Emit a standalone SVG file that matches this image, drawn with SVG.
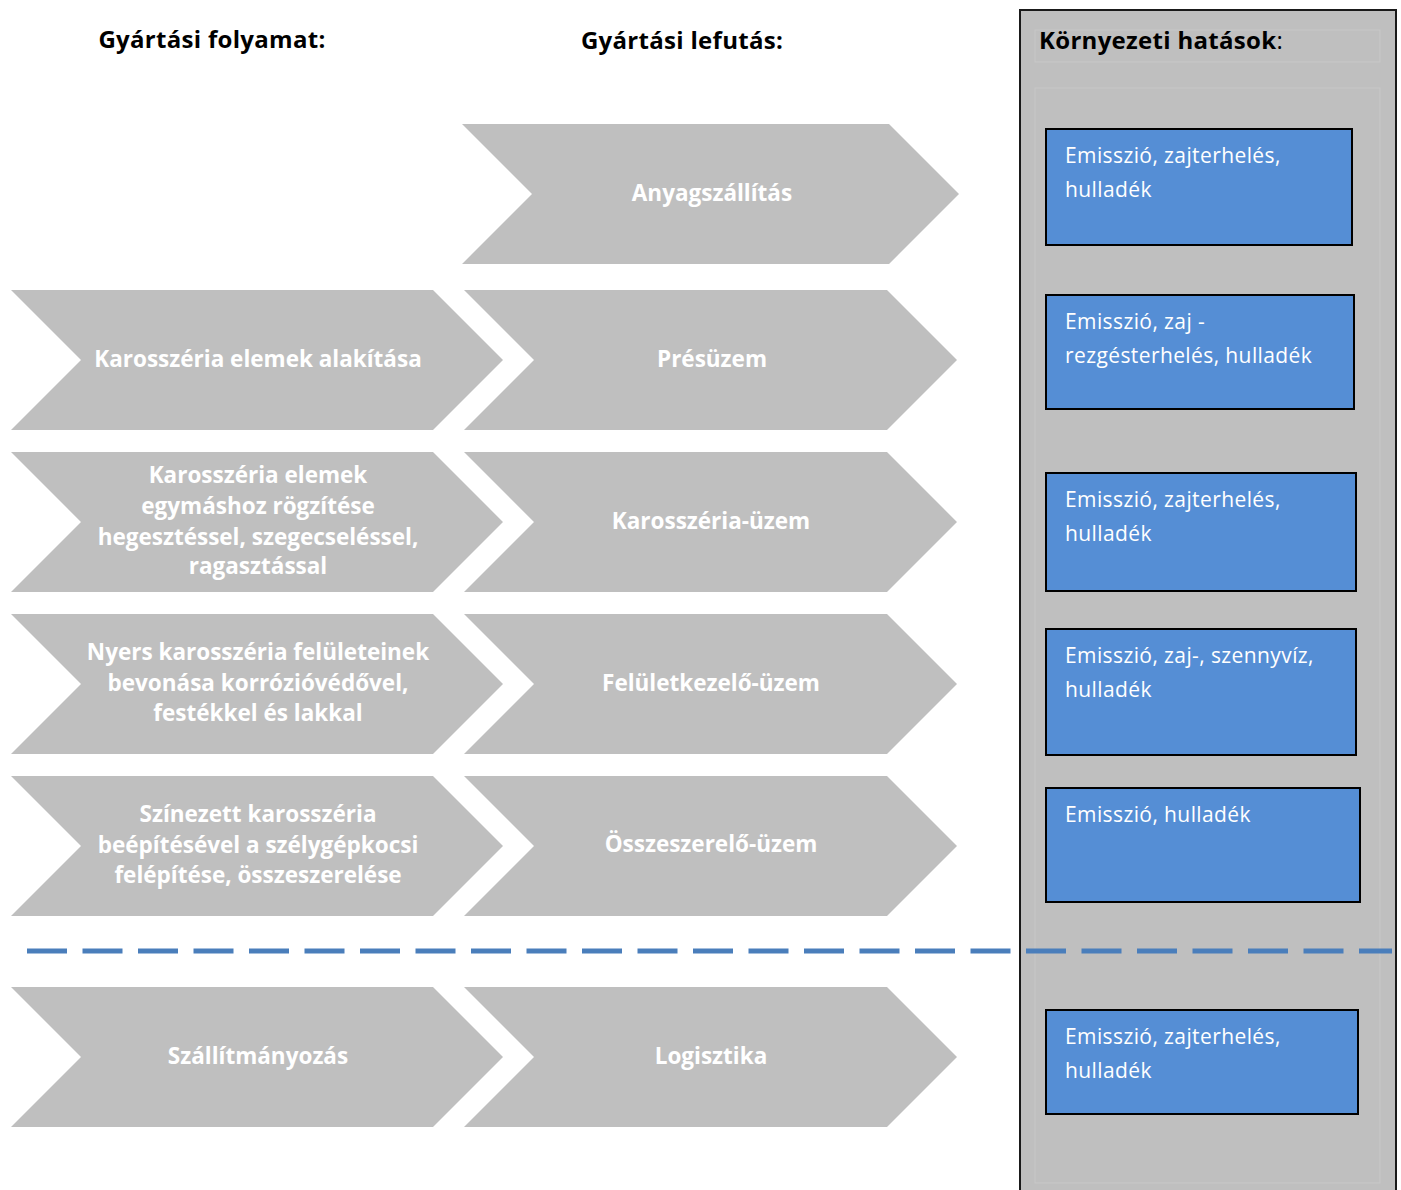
<svg xmlns="http://www.w3.org/2000/svg" width="1401" height="1190" viewBox="0 0 1401 1190">
<style>
.chev{fill:#BFBFBF}
.ct{font-family:"Open Sans","Liberation Sans",Arial,sans-serif;font-weight:bold;font-size:22.5px;fill:#FFFFFF;text-anchor:middle}
.hd{font-family:"Open Sans","Liberation Sans",Arial,sans-serif;font-weight:bold;font-size:24px;letter-spacing:0.3px;fill:#000000}
.box{fill:#558ED5;stroke:#000000;stroke-width:2}
.bt{font-family:"Open Sans","Liberation Sans",Arial,sans-serif;font-size:21px;letter-spacing:0.4px;fill:#FFFFFF}
</style>
<rect width="1401" height="1190" fill="#FFFFFF"/>
<g id="panel">
<rect x="1020" y="10" width="376" height="1190" fill="#BFBFBF" stroke="#1a1a1a" stroke-width="2"/>
<rect x="1035" y="30" width="345" height="32" fill="none" stroke="#C8C8C8" stroke-width="1"/>
<rect x="1035" y="88" width="345" height="1095" fill="none" stroke="#C8C8C8" stroke-width="1"/>
</g>
<g id="headers">
<text class="hd" x="212" y="48" text-anchor="middle">Gyártási folyamat:</text>
<text class="hd" x="682" y="49" text-anchor="middle">Gyártási lefutás:</text>
<text class="hd" x="1039" y="49">Környezeti hatások<tspan font-weight="normal">:</tspan></text>
</g>
<g id="connectors">
<line x1="27" y1="951" x2="1392" y2="951" stroke="#4A7EBB" stroke-width="5" stroke-dasharray="40 15.5"/>
</g>
<g id="anyagszallitas">
<polygon class="chev" points="462,124 889,124 959,194 889,264 462,264 532,194"/>
<text class="ct" x="712" y="201">Anyagszállítás</text>
</g>
<g id="karosszeria-alakitas">
<polygon class="chev" points="11,290 433,290 503,360 433,430 11,430 81,360"/>
<text class="ct" x="258" y="367">Karosszéria elemek alakítása</text>
</g>
<g id="presuzem">
<polygon class="chev" points="464,290 887,290 957,360 887,430 464,430 534,360"/>
<text class="ct" x="712" y="367">Présüzem</text>
</g>
<g id="karosszeria-rogzites">
<polygon class="chev" points="11,452 433,452 503,522 433,592 11,592 81,522"/>
<text class="ct" x="258" y="483">Karosszéria elemek</text>
<text class="ct" x="258" y="514">egymáshoz rögzítése</text>
<text class="ct" x="258" y="545">hegesztéssel, szegecseléssel,</text>
<text class="ct" x="258" y="574">ragasztással</text>
</g>
<g id="karosszeria-uzem">
<polygon class="chev" points="464,452 887,452 957,522 887,592 464,592 534,522"/>
<text class="ct" x="711" y="529">Karosszéria-üzem</text>
</g>
<g id="bevonas">
<polygon class="chev" points="11,614 433,614 503,684 433,754 11,754 81,684"/>
<text class="ct" x="258" y="660">Nyers karosszéria felületeinek</text>
<text class="ct" x="258" y="691">bevonása korrózióvédővel,</text>
<text class="ct" x="258" y="721">festékkel és lakkal</text>
</g>
<g id="feluletkezelo">
<polygon class="chev" points="464,614 887,614 957,684 887,754 464,754 534,684"/>
<text class="ct" x="711" y="691">Felületkezelő-üzem</text>
</g>
<g id="szinezett">
<polygon class="chev" points="11,776 433,776 503,846 433,916 11,916 81,846"/>
<text class="ct" x="258" y="822">Színezett karosszéria</text>
<text class="ct" x="258" y="853">beépítésével a szélygépkocsi</text>
<text class="ct" x="258" y="883">felépítése, összeszerelése</text>
</g>
<g id="osszeszerelo">
<polygon class="chev" points="464,776 887,776 957,846 887,916 464,916 534,846"/>
<text class="ct" x="711" y="852">Összeszerelő-üzem</text>
</g>
<g id="szallitmanyozas">
<polygon class="chev" points="11,987 433,987 503,1057 433,1127 11,1127 81,1057"/>
<text class="ct" x="258" y="1064">Szállítmányozás</text>
</g>
<g id="logisztika">
<polygon class="chev" points="464,987 887,987 957,1057 887,1127 464,1127 534,1057"/>
<text class="ct" x="711" y="1064">Logisztika</text>
</g>
<g id="hatas1">
<rect class="box" x="1046" y="129" width="306" height="116"/>
<text class="bt" x="1065" y="163">Emisszió, zajterhelés,</text>
<text class="bt" x="1065" y="197">hulladék</text>
</g>
<g id="hatas2">
<rect class="box" x="1046" y="295" width="308" height="114"/>
<text class="bt" x="1065" y="329">Emisszió, zaj -</text>
<text class="bt" x="1065" y="363">rezgésterhelés, hulladék</text>
</g>
<g id="hatas3">
<rect class="box" x="1046" y="473" width="310" height="118"/>
<text class="bt" x="1065" y="507">Emisszió, zajterhelés,</text>
<text class="bt" x="1065" y="541">hulladék</text>
</g>
<g id="hatas4">
<rect class="box" x="1046" y="629" width="310" height="126"/>
<text class="bt" x="1065" y="663">Emisszió, zaj-, szennyvíz,</text>
<text class="bt" x="1065" y="697">hulladék</text>
</g>
<g id="hatas5">
<rect class="box" x="1046" y="788" width="314" height="114"/>
<text class="bt" x="1065" y="822">Emisszió, hulladék</text>
</g>
<g id="hatas6">
<rect class="box" x="1046" y="1010" width="312" height="104"/>
<text class="bt" x="1065" y="1044">Emisszió, zajterhelés,</text>
<text class="bt" x="1065" y="1078">hulladék</text>
</g>
</svg>
